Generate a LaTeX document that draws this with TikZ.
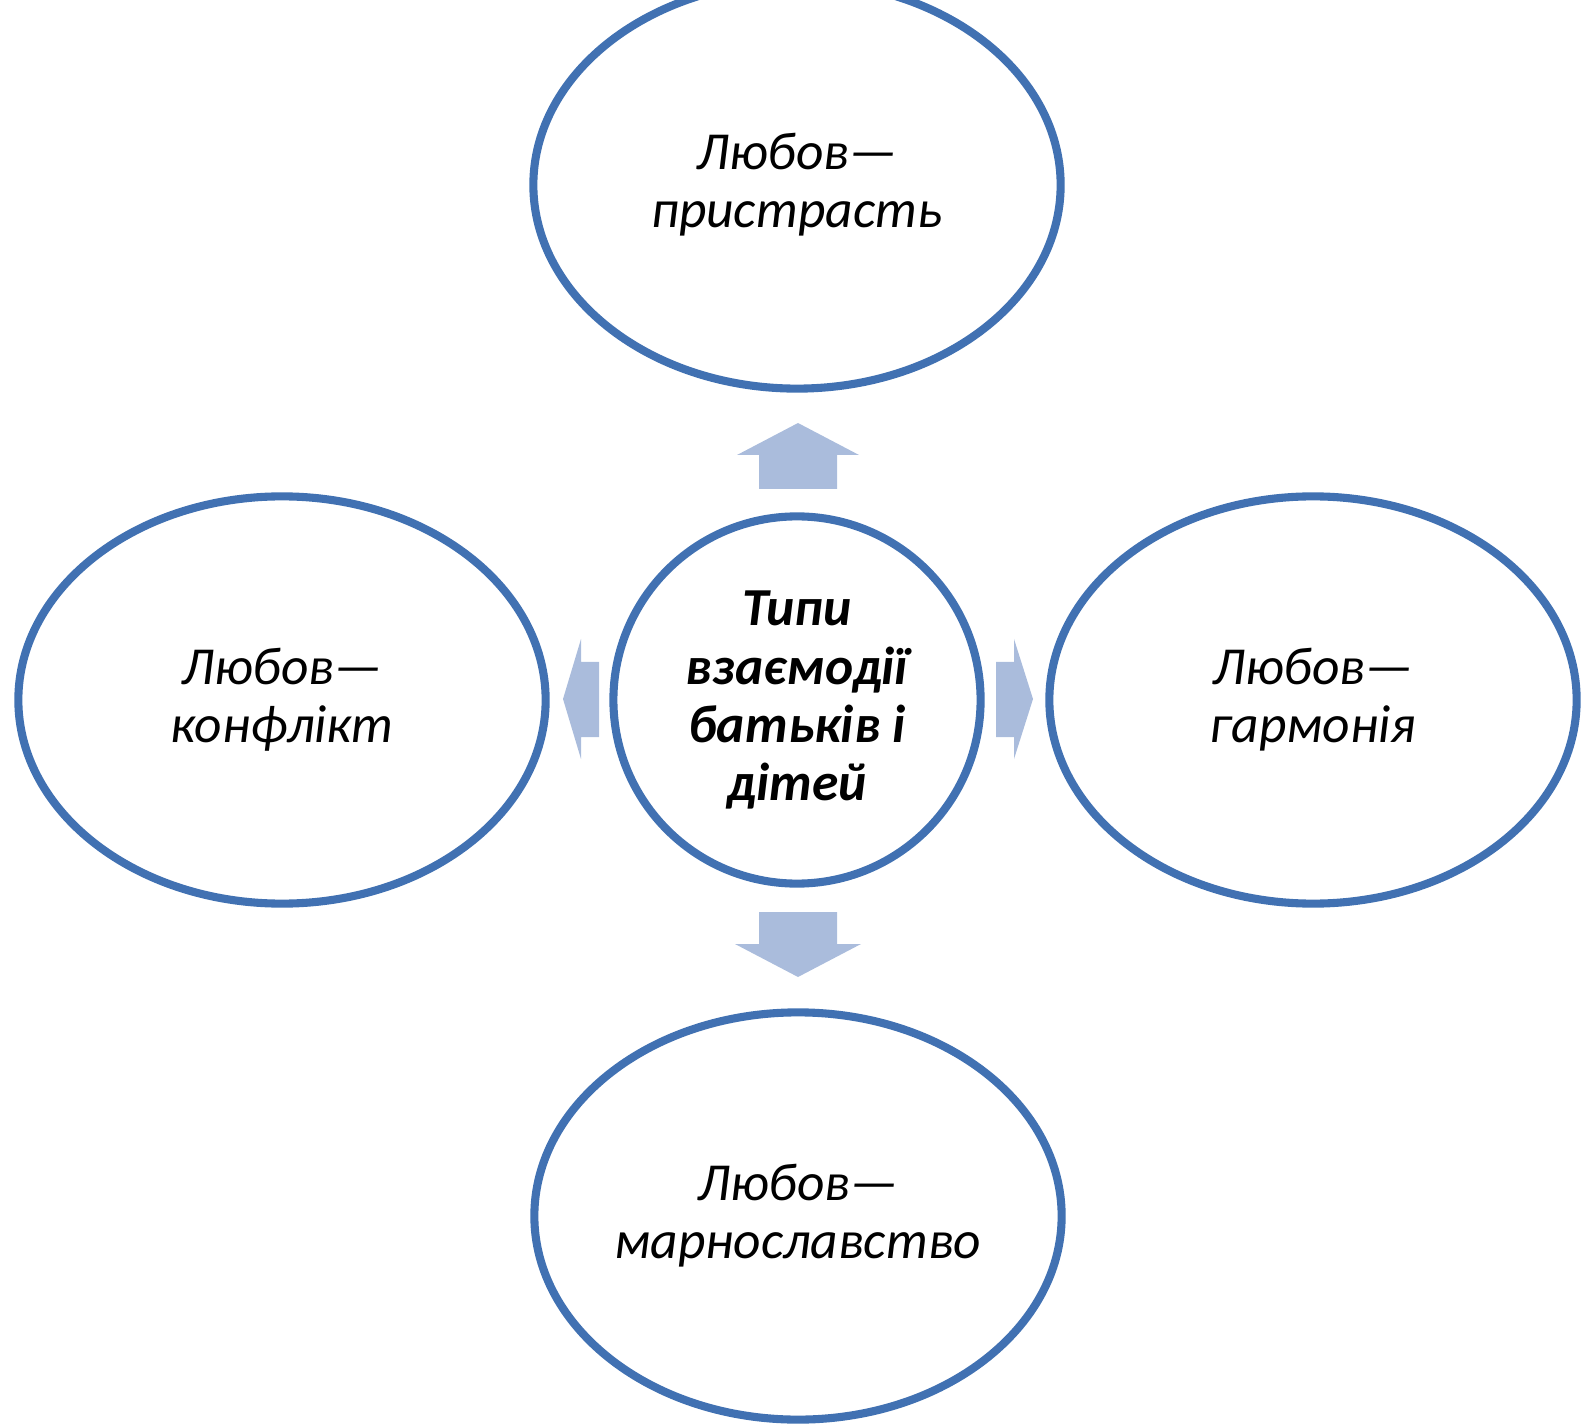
\documentclass[tikz,border=0pt]{standalone}
\usepackage{fontspec}
\setmainfont{Carlito}
\usetikzlibrary{shapes.geometric,math}
\definecolor{ringblue}{RGB}{65,113,178}
\definecolor{arrowblue}{RGB}{170,188,220}

\tikzset{
  ring/.style={ellipse, draw=ringblue, line width=2.3pt, fill=white, inner sep=0pt,
    align=center, font=\fontsize{15.2}{16.5}\selectfont\itshape,
    minimum width=5.27cm, minimum height=4.07cm},
  hub/.style={circle, draw=ringblue, line width=2.3pt, fill=white, inner sep=0pt,
    align=center, font=\fontsize{15.2}{16.5}\selectfont\bfseries\itshape,
    minimum size=3.67cm},
  blockarrow/.style={fill=arrowblue}
}

\begin{document}
\begin{tikzpicture}[x=0.01cm, y=-0.01cm]

%page frame, pixel units with y going down
\useasboundingbox (0,0) rectangle (1582,1428);

%centres of the five rings
\tikzmath{
coordinate \c;
\c0=(797,700);   %hub
\c1=(797,185);   %top
\c2=(282,700);   %left
\c3=(1313,700);  %right
\c4=(798,1216);  %bottom
}

%the hub
\node[hub] (types) at (\c0) {Типи\\взаємодії\\батьків і\\дітей};

%four kinds of love
\node[ring] (passion) at (\c1) {Любов—\\пристрасть};
\node[ring] (conflict) at (\c2) {Любов—\\конфлікт};
\node[ring] (harmony) at (\c3) {Любов—\\гармонія};
\node[ring] (vanity) at (\c4) {Любов—\\марнославство};

%block arrows out of the hub
\fill[blockarrow] (759,489) -- (759,455) -- (737,455) -- (798,423) -- (859,455) -- (837,455) -- (837,489) -- cycle;
\fill[blockarrow] (759,912) -- (837,912) -- (837,944) -- (861,944) -- (798,977) -- (735,944) -- (759,944) -- cycle;
\fill[blockarrow] (599,662) -- (581,662) -- (581,639) -- (563,699) -- (581,759) -- (581,737) -- (599,737) -- cycle;
\fill[blockarrow] (996,662) -- (1014,662) -- (1014,639) -- (1033,699) -- (1014,759) -- (1014,737) -- (996,737) -- cycle;

\end{tikzpicture}
\end{document}
